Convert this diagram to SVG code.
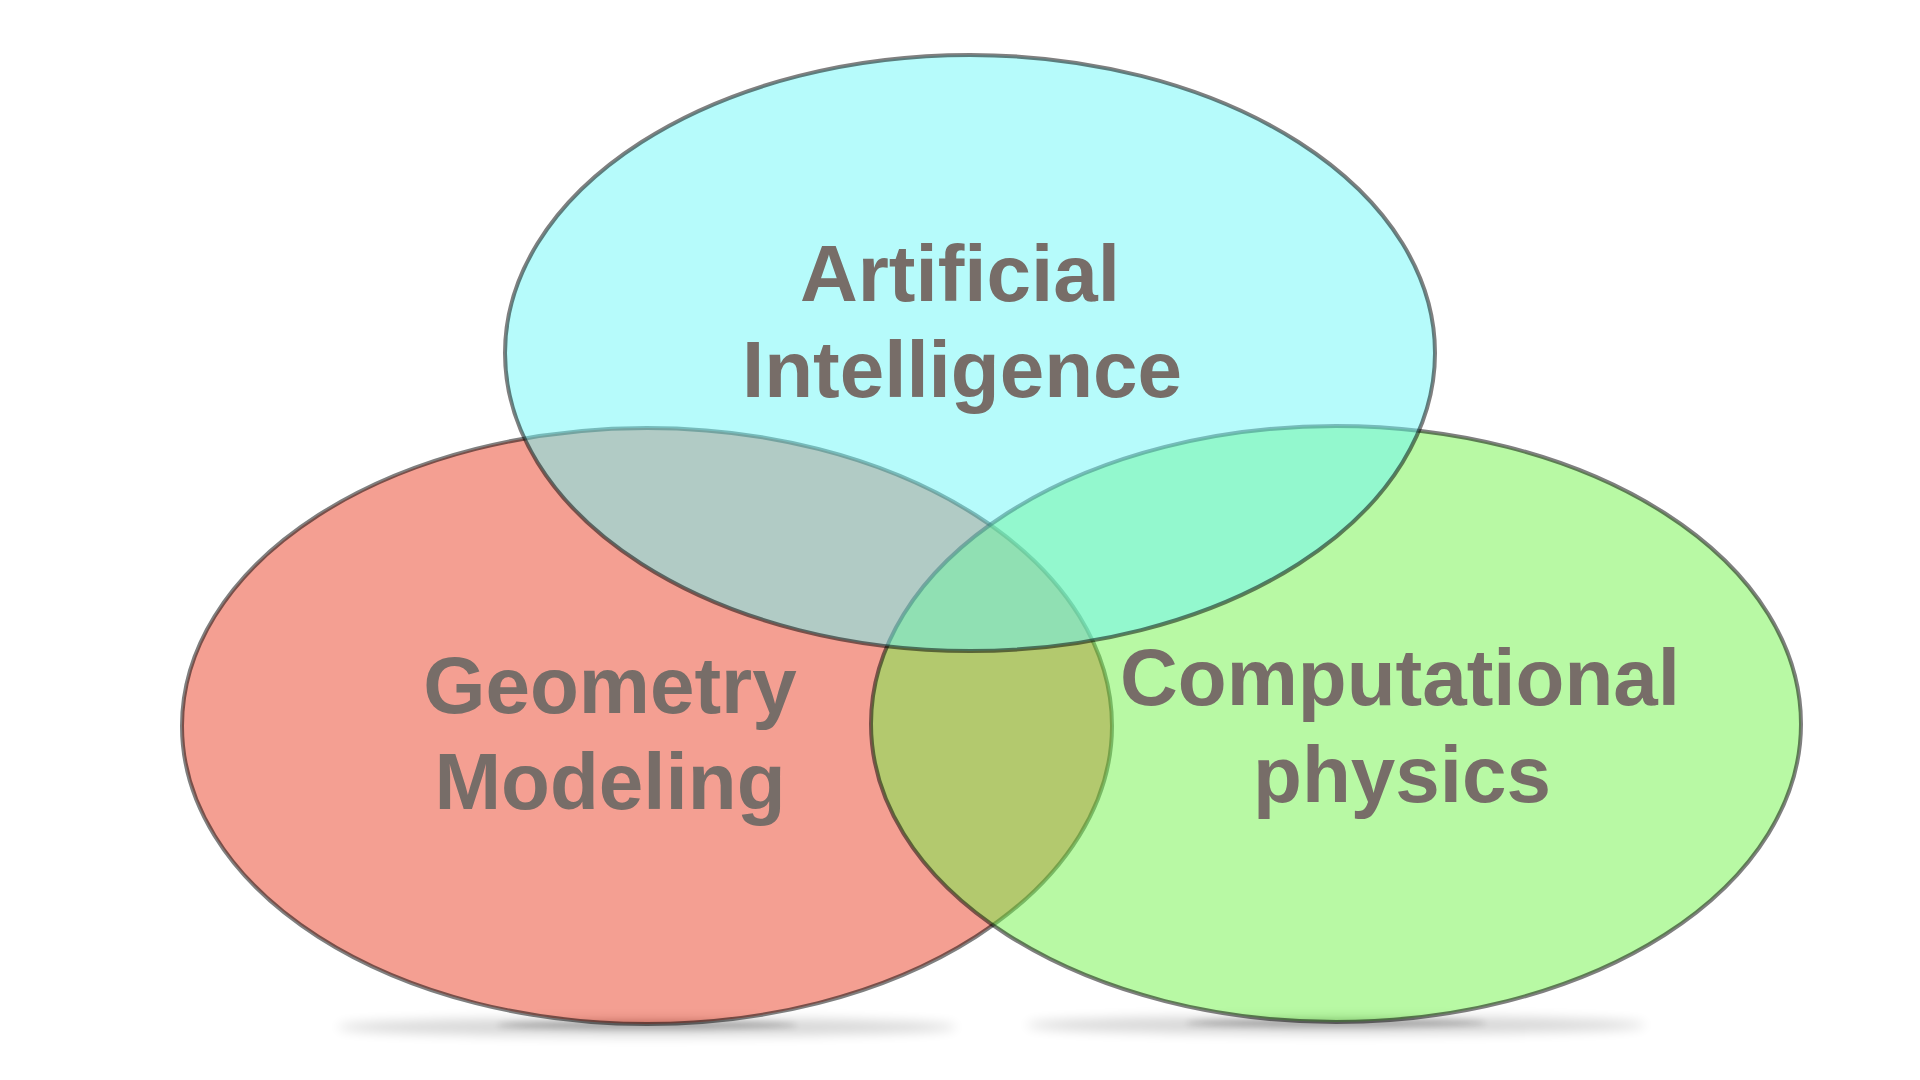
<svg xmlns="http://www.w3.org/2000/svg" width="1920" height="1080" viewBox="0 0 1920 1080">
  <defs>
    <filter id="blur" x="-20%" y="-300%" width="140%" height="700%">
      <feGaussianBlur stdDeviation="6"/>
    </filter>
    <filter id="blur2" x="-20%" y="-300%" width="140%" height="700%">
      <feGaussianBlur stdDeviation="3"/>
    </filter>
    <style>
      .set { stroke: #000; stroke-opacity: 0.5; stroke-width: 4; }
      .red { fill: #e93f25; fill-opacity: 0.5; }
      .green { fill: #71f349; fill-opacity: 0.5; }
      .cyan { fill: #6df7f7; fill-opacity: 0.5; }
      .shadow { fill: #000; opacity: 0.16; filter: url(#blur); }
      .core { fill: #000; opacity: 0.25; filter: url(#blur2); }
      .label { font-family: "Liberation Sans", Arial, Helvetica, sans-serif; font-weight: bold; font-size: 80px; fill: #776d68; text-anchor: middle; }
    </style>
  </defs>
  <rect width="1920" height="1080" fill="#ffffff"/>
  <g id="shadows">
    <ellipse class="shadow" cx="647" cy="1027" rx="310" ry="9"/>
    <ellipse class="core" cx="647" cy="1025" rx="150" ry="4"/>
    <ellipse class="shadow" cx="1336" cy="1025" rx="310" ry="9"/>
    <ellipse class="core" cx="1336" cy="1023" rx="150" ry="4"/>
  </g>
  <g id="geometry-modeling">
    <ellipse class="set red" cx="647" cy="726" rx="465" ry="298"/>
  </g>
  <g id="computational-physics">
    <ellipse class="set green" cx="1336" cy="724" rx="465" ry="298"/>
  </g>
  <g id="artificial-intelligence">
    <ellipse class="set cyan" cx="970" cy="353" rx="465" ry="298"/>
  </g>
  <g id="labels">
    <text class="label" x="960" y="301">Artificial</text>
    <text class="label" x="962" y="397">Intelligence</text>
    <text class="label" x="610" y="713">Geometry</text>
    <text class="label" x="610" y="809">Modeling</text>
    <text class="label" x="1400" y="705">Computational</text>
    <text class="label" x="1402" y="802">physics</text>
  </g>
  <g id="connectors"></g>
</svg>
